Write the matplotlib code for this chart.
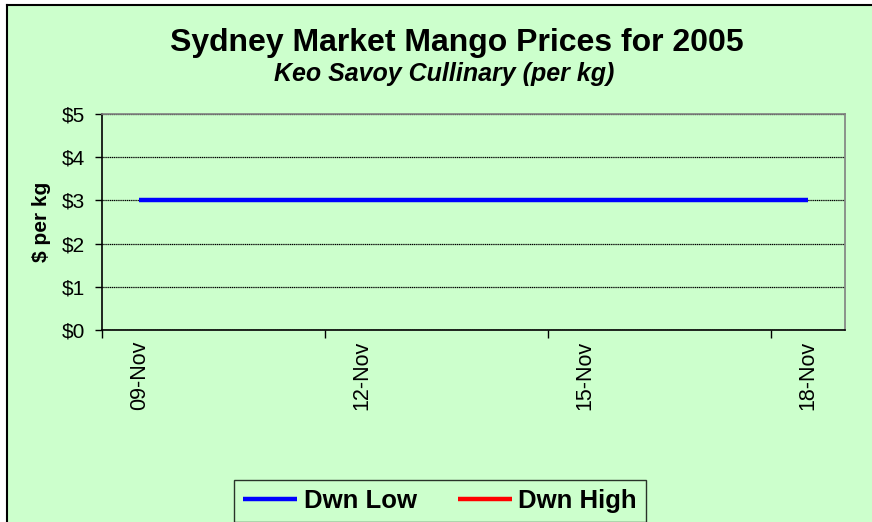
import numpy as np
import matplotlib.pyplot as plt
from matplotlib.patches import Rectangle
from matplotlib.lines import Line2D

# data
dates = ['09-Nov', '10-Nov', '11-Nov', '12-Nov', '13-Nov',
         '14-Nov', '15-Nov', '16-Nov', '17-Nov', '18-Nov']
dwn_low = [3.0, 3.0, 3.0, 3.0, 3.0, 3.0, 3.0, 3.0, 3.0, 3.0]
dwn_high = [None] * 10  # no data shown for high
y_ticks = [0, 1, 2, 3, 4, 5]
y_labels = ['$0', '$1', '$2', '$3', '$4', '$5']

plt.rcParams['font.family'] = ['Liberation Sans', 'DejaVu Sans']

W, H = 872, 522
fig = plt.figure(figsize=(W / 100, H / 100), dpi=100, facecolor='white')
bg = '#CCFFCC'

# chart area background (cropped at right/bottom) with border on left and top
fig.patches.append(Rectangle((7 / W, 0), 1, 1 - 5 / H, transform=fig.transFigure,
                             facecolor=bg, edgecolor='none', zorder=-5))
fig.lines.append(Line2D([7 / W, 7 / W], [0, 1 - 5 / H], transform=fig.transFigure,
                        color='black', lw=1.5))
fig.lines.append(Line2D([7 / W, 1], [1 - 5 / H, 1 - 5 / H], transform=fig.transFigure,
                        color='black', lw=1.5))

ax = fig.add_axes([102 / W, (H - 330) / H, 743 / W, 216 / H])
ax.set_facecolor(bg)

x = np.arange(len(dates))
high = np.array([np.nan if v is None else v for v in dwn_high], dtype=float)
ax.plot(x, dwn_low, color='#0000FF', lw=3.2, solid_capstyle='butt', zorder=3, label='Dwn Low')
ax.plot(x, high, color='#FF0000', lw=3.2, solid_capstyle='butt', zorder=4, label='Dwn High')

ax.set_xlim(-0.5, len(dates) - 0.5)
ax.set_ylim(0, 5)

# category-boundary ticks every 3 days, labels at category centres
ax.set_xticks([-0.5, 2.5, 5.5, 8.5])
ax.set_xticklabels([])
ax.set_xticks([0, 3, 6, 9], minor=True)
ax.set_xticklabels([dates[0], dates[3], dates[6], dates[9]], minor=True,
                   rotation=90, fontsize=15.5)
ax.tick_params(axis='x', which='major', direction='out', length=6, width=1, color='black')
ax.tick_params(axis='x', which='minor', length=0, pad=8)

ax.set_yticks(y_ticks)
ax.set_yticklabels(y_labels, fontsize=15)
ax.tick_params(axis='y', direction='out', length=5, width=1, pad=7)

ax.grid(axis='y', color='black', lw=0.9, linestyle=(0, (1, 0.5)), zorder=1)
ax.set_axisbelow(True)

ax.spines['left'].set_color('black')
ax.spines['bottom'].set_color('black')
ax.spines['top'].set_color('#808080')
ax.spines['right'].set_color('#808080')
for s in ax.spines.values():
    s.set_linewidth(1.2)

ax.set_ylabel('$ per kg', fontsize=15, fontweight='bold', labelpad=8)

fig.text(457 / W, 1 - 51 / H, 'Sydney Market Mango Prices for 2005', ha='center',
         va='baseline', fontsize=23, fontweight='bold')
fig.text(444 / W, 1 - 81 / H, 'Keo Savoy Cullinary (per kg)', ha='center',
         va='baseline', fontsize=18, fontweight='bold', style='italic')

leg = fig.legend(loc='center', bbox_to_anchor=(440 / W, 1 - 501 / H), ncol=2,
                 frameon=True, fancybox=False, edgecolor='black', facecolor=bg,
                 prop={'size': 18.5, 'weight': 'bold'}, handlelength=2.1,
                 columnspacing=1.6, borderpad=0.35, handletextpad=0.25)
leg.get_frame().set_linewidth(1.0)

fig.savefig('out.png', dpi=100, facecolor=fig.get_facecolor())
